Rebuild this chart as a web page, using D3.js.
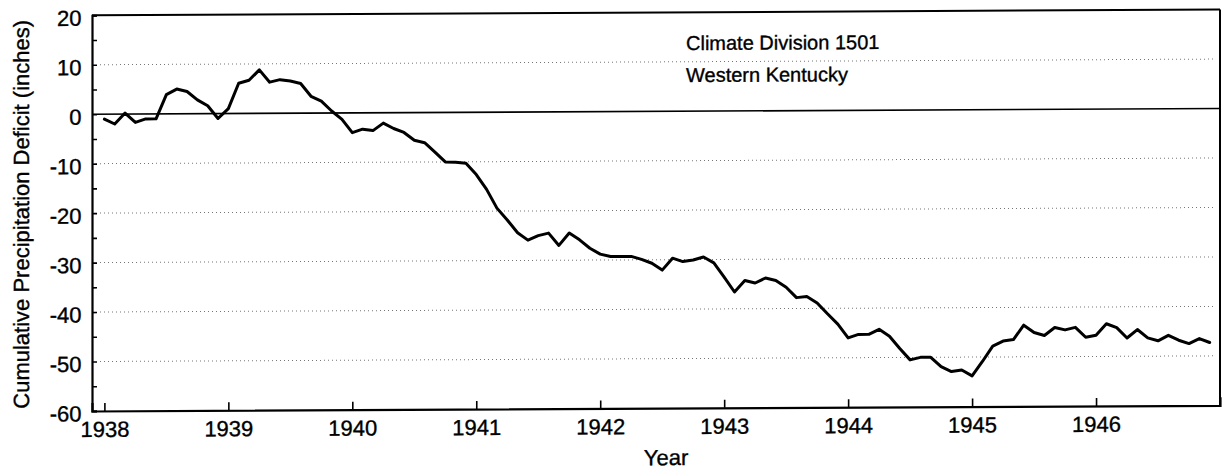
<!DOCTYPE html>
<html>
<head>
<meta charset="utf-8">
<script src="https://cdn.jsdelivr.net/npm/d3@7"></script>
<style>
  html, body { margin: 0; padding: 0; background: #fff; }
  svg { display: block; }
  text { font-family: "Liberation Sans", Arial, Helvetica, sans-serif; fill: #000; stroke: #000; stroke-width: 0.35px; }
</style>
</head>
<body>
<svg id="chart" width="1228" height="472"></svg>
<script>
// Monthly cumulative precipitation deficit (inches), January 1938 – December 1946
const startYear = 1938;
const deficit1938 = [-1.0, -2.0, 0.2, -1.7, -1.0, -1.0, 3.9, 5.0, 4.5, 2.8, 1.6, -1.0];
const deficit1939 = [1.0, 6.1, 6.7, 8.8, 6.3, 6.8, 6.5, 6.0, 3.4, 2.4, 0.4, -1.3];
const deficit1940 = [-4.0, -3.3, -3.6, -2.1, -3.2, -4.0, -5.6, -6.1, -8.0, -10.0, -10.1, -10.3];
const deficit1941 = [-12.6, -15.6, -19.4, -21.8, -24.4, -25.9, -25.0, -24.5, -27.0, -24.5, -25.9, -27.6];
const deficit1942 = [-28.8, -29.3, -29.3, -29.3, -29.9, -30.7, -32.1, -29.7, -30.4, -30.1, -29.5, -30.7];
const deficit1943 = [-33.6, -36.6, -34.3, -34.8, -33.8, -34.3, -35.7, -37.8, -37.6, -38.9, -41.1, -43.2];
const deficit1944 = [-46.0, -45.3, -45.3, -44.3, -45.7, -48.2, -50.5, -50.0, -50.0, -51.9, -52.9, -52.6];
const deficit1945 = [-53.8, -50.9, -47.8, -46.8, -46.5, -43.6, -45.1, -45.7, -44.1, -44.6, -44.1, -46.1];
const deficit1946 = [-45.7, -43.4, -44.2, -46.3, -44.6, -46.3, -46.9, -45.8, -46.8, -47.5, -46.5, -47.3];

const yearTicks = [1938, 1939, 1940, 1941, 1942, 1943, 1944, 1945, 1946];
const yTicks = [20, 10, 0, -10, -20, -30, -40, -50, -60];
const yMinorTicks = [15, 5, -5, -15, -25, -35, -45, -55];
const gridValues = [10, -10, -20, -30, -40, -50];

const titleLines = ["Climate Division 1501", "Western Kentucky"];
const xTitle = "Year";
const yTitle = "Cumulative Precipitation Deficit (inches)";

const monthly = [deficit1938, deficit1939, deficit1940, deficit1941, deficit1942,
                 deficit1943, deficit1944, deficit1945, deficit1946]
  .flat()
  .map((v, i) => ({ t: startYear + i / 12, v }));

const svg = d3.select("#chart");

// plot frame in pixels
const plotLeft = 92, plotRight = 1220, plotTop = 15.3, plotBottom = 411;

const x = d3.scaleLinear().domain([1937.9, 1947]).range([plotLeft, plotRight]);
const y = d3.scaleLinear().domain([-60, 20]).range([plotBottom, plotTop]);

// whole figure sits on a very slight slant
const g = svg.append("g")
  .attr("transform", `translate(${plotLeft},0) skewY(-0.29) translate(${-plotLeft},0)`);

// dotted gridlines
g.append("g").selectAll("line").data(gridValues).join("line")
  .attr("x1", plotLeft + 8).attr("x2", plotRight - 4)
  .attr("y1", d => y(d)).attr("y2", d => y(d))
  .attr("stroke", "#777").attr("stroke-width", 1)
  .attr("stroke-dasharray", "1,3");

// zero reference line
g.append("line")
  .attr("x1", plotLeft).attr("x2", plotRight)
  .attr("y1", y(0)).attr("y2", y(0))
  .attr("stroke", "#000").attr("stroke-width", 1.6);

// frame: top and right borders
g.append("line")
  .attr("x1", plotLeft).attr("x2", plotRight).attr("y1", y(20)).attr("y2", y(20))
  .attr("stroke", "#000").attr("stroke-width", 2);
g.append("line")
  .attr("x1", plotRight).attr("x2", plotRight).attr("y1", y(20)).attr("y2", y(-60))
  .attr("stroke", "#000").attr("stroke-width", 2);

// tick labels use a plain hyphen for negatives
const fmt = d => String(d);

// left axis with inward ticks
const yAxis = g.append("g").attr("transform", `translate(${plotLeft},0)`)
  .call(d3.axisLeft(y).tickValues(yTicks).tickSize(-5).tickPadding(10).tickFormat(fmt));
yAxis.select(".domain").attr("stroke", "#000").attr("stroke-width", 2.2);
yAxis.selectAll(".tick line").attr("stroke", "#000").attr("stroke-width", 1.6);
yAxis.selectAll(".tick text")
  .attr("font-size", 22).attr("dy", "0.45em")
  .attr("font-family", "Liberation Sans, Arial, sans-serif")
  .attr("x", -10.5);
g.append("g").attr("transform", `translate(${plotLeft},0)`)
  .call(d3.axisLeft(y).tickValues(yMinorTicks).tickSize(-5).tickFormat(""))
  .call(s => s.select(".domain").remove())
  .selectAll(".tick line").attr("stroke", "#000").attr("stroke-width", 1.6);

// bottom axis with inward ticks
const xAxis = g.append("g").attr("transform", `translate(0,${plotBottom})`)
  .call(d3.axisBottom(x).tickValues(yearTicks).tickSize(-8).tickPadding(0).tickFormat(fmt));
xAxis.select(".domain").attr("stroke", "#000").attr("stroke-width", 2.2);
xAxis.selectAll(".tick line").attr("stroke", "#000").attr("stroke-width", 1.6);
xAxis.selectAll(".tick text")
  .attr("font-size", 22).attr("y", 26).attr("dy", 0)
  .attr("font-family", "Liberation Sans, Arial, sans-serif");
svg.selectAll(".tick text").attr("fill", "#000");

// deficit curve
const line = d3.line().x(d => x(d.t)).y(d => y(d.v));
g.append("path")
  .datum(monthly)
  .attr("d", line)
  .attr("fill", "none")
  .attr("stroke", "#000")
  .attr("stroke-width", 3)
  .attr("stroke-linejoin", "round")
  .attr("stroke-linecap", "round");

// station caption
g.append("g").selectAll("text").data(titleLines).join("text")
  .attr("x", 686)
  .attr("y", (d, i) => 53 + i * 32)
  .attr("font-size", 20)
  .text(d => d);

// axis titles
g.append("text")
  .attr("x", 666).attr("y", 468)
  .attr("text-anchor", "middle")
  .attr("font-size", 22)
  .text(xTitle);

g.append("text")
  .attr("transform", "translate(28.5,214) rotate(-90)")
  .attr("text-anchor", "middle")
  .attr("font-size", 22)
  .text(yTitle);
</script>
</body>
</html>
